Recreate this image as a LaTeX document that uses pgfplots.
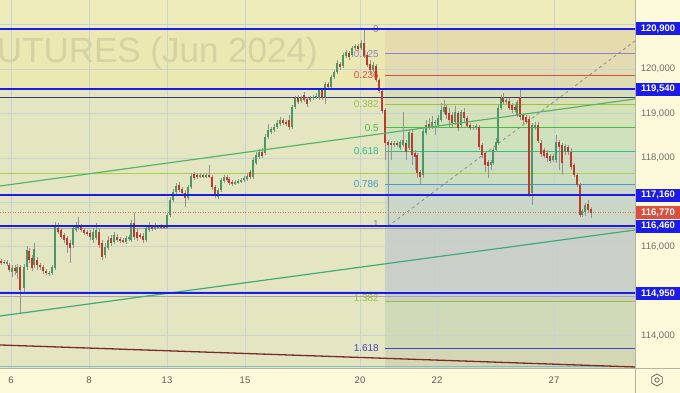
\documentclass[border=0pt]{standalone}
\usepackage{pgfplots}
\pgfplotsset{compat=1.18}
\usepackage{pgfplotstable}
\usepackage{fontspec}
\setmainfont{Liberation Sans}

\definecolor{bgpage}{HTML}{FDFADB}
\definecolor{bgplot}{HTML}{E4E5C1}
\definecolor{bgtop}{HTML}{EEECBA}
\definecolor{bgzone}{HTML}{ECE8B2}
\definecolor{gridc}{HTML}{CAD3D4}
\definecolor{lvlblue}{HTML}{1C1CE8}
\definecolor{navyl}{HTML}{3A3A78}
\definecolor{limel}{HTML}{A8D04F}
\definecolor{greenl}{HTML}{58B368}
\definecolor{green2}{HTML}{44A878}
\definecolor{darkred}{HTML}{7A2A2A}
\definecolor{tealb}{HTML}{7DC0C0}
\definecolor{pricered}{HTML}{D9503F}
\definecolor{tickc}{HTML}{6E6E6E}
\definecolor{wmark}{HTML}{D6D2A3}
\definecolor{fgrey}{HTML}{8A8A8A}
\definecolor{fpurple}{HTML}{8C80D0}
\definecolor{fred}{HTML}{E04A4A}
\definecolor{fyg}{HTML}{9DC23C}
\definecolor{fgreen}{HTML}{3CC23C}
\definecolor{fteal}{HTML}{2FBE8A}
\definecolor{fsteel}{HTML}{4A9AD0}
\definecolor{fviolet}{HTML}{4545C0}
\definecolor{wick}{HTML}{939393}
\definecolor{bull}{HTML}{4A9665}
\definecolor{bulldark}{HTML}{24502F}
\definecolor{bear}{HTML}{BE3A2C}
\definecolor{beardark}{HTML}{5E1A16}
\definecolor{band1}{HTML}{E6DBAD}
\definecolor{band2}{HTML}{E3DBB1}
\definecolor{band3}{HTML}{E0DCB2}
\definecolor{band4}{HTML}{D9DFB5}
\definecolor{band5}{HTML}{D5E1B8}
\definecolor{band6}{HTML}{D0E1BE}
\definecolor{band7}{HTML}{CEDEC3}
\definecolor{band8}{HTML}{CCD8C7}
\definecolor{band9}{HTML}{CAD0C8}
\definecolor{band10}{HTML}{D1DAB8}
\definecolor{band11}{HTML}{D5D7B4}
\definecolor{borderc}{HTML}{B4B4A4}

% candles: x (time position), open, high, low, close
\pgfplotstableread[row sep=\\]{
x o h l c\\
7 115610 115700 115570 115660\\
12 115430 115590 115320 115520\\
17 115410 115610 115270 115540\\
24 115070 115610 114980 115540\\
27 115540 116020 115480 115930\\
34 115590 116080 115520 115950\\
49 115390 115450 115340 115410\\
52 115410 115590 115360 115540\\
55 115520 116560 115480 116490\\
73 116040 116460 115970 116420\\
76 116380 116560 116330 116440\\
78 116420 116670 116380 116490\\
93 116150 116420 116080 116330\\
96 116200 116530 116150 116380\\
105 115810 116080 115750 115990\\
108 115970 116240 115930 116150\\
114 116110 116330 116060 116260\\
126 116110 116240 116060 116200\\
129 116170 116260 116130 116220\\
131 116150 116600 116110 116530\\
146 116150 116460 116110 116420\\
149 116380 116560 116330 116440\\
155 116400 116530 116380 116440\\
158 116420 116490 116400 116440\\
167 116420 116760 116400 116710\\
170 116710 117120 116670 117050\\
173 117050 117300 117000 117230\\
176 117230 117430 117190 117370\\
188 117100 117390 117050 117340\\
191 117340 117660 117300 117590\\
200 117570 117660 117550 117610\\
206 117570 117660 117550 117610\\
218 117120 117320 117070 117280\\
221 117280 117550 117230 117500\\
224 117480 117610 117430 117570\\
235 117410 117500 117390 117460\\
238 117430 117520 117410 117480\\
241 117460 117550 117430 117500\\
244 117500 117590 117460 117550\\
247 117520 117660 117480 117590\\
253 117570 118020 117520 117950\\
256 117880 118130 117840 118060\\
259 118020 118200 117970 118130\\
265 118110 118540 118060 118470\\
268 118470 118760 118420 118630\\
271 118580 118690 118540 118650\\
274 118630 118760 118580 118690\\
277 118690 118850 118650 118780\\
280 118760 118920 118720 118850\\
292 118690 119190 118650 119140\\
295 119140 119390 119100 119350\\
301 119280 119390 119230 119350\\
310 119300 119390 119260 119350\\
313 119350 119410 119300 119370\\
316 119370 119460 119320 119390\\
319 119350 119570 119300 119530\\
325 119370 119710 119210 119660\\
331 119590 119860 119550 119820\\
334 119820 119980 119770 119930\\
337 119930 120200 119890 120130\\
343 120070 120360 120020 120310\\
346 120290 120430 120250 120380\\
352 120310 120520 120270 120470\\
355 120470 120560 120430 120520\\
361 120470 120650 120430 120580\\
373 119980 120160 119930 120090\\
394 118290 118380 118240 118330\\
400 118220 118400 118180 118360\\
403 118290 119030 118240 118400\\
409 118220 118630 118180 118580\\
423 117610 118670 117550 118600\\
426 118560 118850 118510 118740\\
432 118690 118940 118650 118810\\
435 118780 118850 118510 118810\\
438 118740 118960 118670 118900\\
441 118850 119230 118810 119080\\
444 119030 119300 118990 119140\\
455 118810 119170 118740 119030\\
461 118740 119080 118670 119030\\
473 118670 118740 118630 118690\\
476 118670 118760 118630 118720\\
491 117840 117950 117730 117910\\
493 117880 118220 117840 118180\\
496 118180 118450 118130 118360\\
498 118330 119190 118290 119120\\
501 119120 119410 119080 119350\\
506 119260 119350 119210 119300\\
517 118960 119300 118920 119260\\
532 117210 118780 116940 118740\\
535 118670 118810 118630 118740\\
553 117950 118090 117910 118040\\
556 117950 118510 117880 118360\\
565 118130 118310 118060 118270\\
582 116710 116850 116670 116800\\
585 116780 116980 116690 116940\\
}\bulltab

\pgfplotstableread[row sep=\\]{
x o h l c\\
1 115680 115720 115590 115630\\
4 115660 115700 115610 115630\\
9 115590 115630 115430 115480\\
15 115520 115590 115360 115450\\
20 115540 115590 114510 115030\\
29 115900 115970 115630 115700\\
32 115750 115810 115450 115520\\
37 115700 115770 115480 115590\\
40 115590 115630 115480 115540\\
43 115540 115590 115390 115450\\
46 115450 115500 115360 115410\\
58 116420 116530 116290 116330\\
61 116380 116420 116170 116220\\
64 116260 116310 116080 116150\\
67 116200 116240 115860 116040\\
70 116080 116150 115630 115970\\
81 116440 116510 116330 116380\\
84 116380 116420 116260 116310\\
87 116330 116380 116240 116290\\
90 116310 116380 116150 116220\\
99 116330 116400 115970 116040\\
102 116080 116150 115700 115770\\
111 116200 116260 116020 116080\\
117 116220 116290 116110 116150\\
120 116170 116220 116080 116130\\
123 116150 116200 116080 116110\\
134 116530 116760 116150 116220\\
137 116330 116420 116130 116200\\
140 116260 116310 116170 116220\\
143 116240 116310 116080 116150\\
152 116440 116490 116350 116400\\
161 116460 116510 116400 116420\\
164 116440 116490 116400 116420\\
179 117390 117460 117230 117280\\
182 117300 117340 117160 117210\\
185 117210 117280 116890 117100\\
194 117640 117680 117500 117550\\
197 117610 117660 117520 117570\\
203 117610 117640 117550 117570\\
209 117610 117840 117550 117570\\
212 117570 117610 117280 117340\\
215 117340 117390 117100 117160\\
227 117570 117610 117460 117500\\
229 117520 117570 117390 117430\\
232 117460 117500 117370 117410\\
250 117680 117730 117520 117570\\
262 118130 118220 118000 118040\\
283 118850 118900 118740 118780\\
286 118810 118850 118720 118760\\
289 118850 118960 118630 118690\\
298 119350 119410 119210 119260\\
304 119410 119480 119260 119300\\
307 119320 119370 119140 119210\\
322 119530 119570 119300 119350\\
328 119660 119710 119530 119590\\
340 120110 120160 119980 120040\\
349 120360 120400 120200 120270\\
358 120520 120560 120400 120450\\
364 120580 120900 120250 120290\\
367 120310 120380 120040 120090\\
370 120110 120200 119890 119980\\
376 120070 120110 119710 119750\\
379 119750 119800 119460 119500\\
382 119500 119550 119010 119050\\
385 119080 119120 117950 118330\\
388 118360 118400 116460 118290\\
391 118330 118380 117950 118290\\
397 118330 118380 118240 118290\\
406 118330 118400 117950 118130\\
412 118560 118630 117840 118060\\
415 118110 118180 117730 118020\\
417 118060 118110 117550 117660\\
420 117680 117730 117390 117570\\
429 118760 118900 118630 118670\\
446 119140 119190 118870 118960\\
449 119010 119120 118690 118850\\
452 118960 119030 118690 118780\\
458 119010 119050 118600 118670\\
464 119030 119120 118810 118900\\
467 118900 118940 118670 118720\\
470 118740 118780 118630 118670\\
479 118690 118740 118180 118240\\
482 118290 118330 118000 118060\\
485 118110 118150 117680 117840\\
488 117910 117950 117550 117820\\
503 119350 119460 119210 119260\\
509 119280 119350 119080 119120\\
512 119190 119230 119010 119080\\
515 119140 119190 119030 119080\\
520 119350 119570 118850 118920\\
523 118960 119010 118740 118850\\
526 118920 118960 118760 118810\\
529 118870 118940 117120 117160\\
538 118740 118810 118330 118380\\
541 118330 118400 118020 118090\\
544 118180 118220 118000 118040\\
547 118110 118180 117910 118000\\
550 118040 118090 117880 117930\\
559 118360 118400 117730 118240\\
562 118290 118330 117610 117880\\
568 118240 118290 118060 118130\\
571 118130 118220 117730 117790\\
574 117840 117880 117570 117610\\
577 117610 117660 117340 117390\\
580 117390 117430 116670 116710\\
588 116960 117050 116780 116830\\
591 116850 116890 116650 116770\\
}\beartab

\begin{document}
\begin{tikzpicture}
\fill[bgpage] (0pt,-25pt) rectangle (680pt,368pt);
\begin{axis}[
  at={(0pt,0pt)}, anchor=south west,
  scale only axis, width=635pt, height=368pt,
  xmin=0, xmax=635, ymin=113272, ymax=121552,
  clip=false,
  axis line style={draw=none},
  tick style={draw=none},
  major tick length=0pt,
  axis background/.style={fill=bgplot},
  xtick={11,89,167,245,360,437,554},
  xticklabels={6,8,13,15,20,22,27},
  ytick={114000,116000,118000,119000,120000},
  yticklabels={{114,000},{116,000},{118,000},{119,000},{120,000}},
  yticklabel pos=right,
  yticklabel style={anchor=center, xshift=23pt, text=tickc, font=\fontsize{9.5}{11}\selectfont},
  xticklabel style={anchor=center, yshift=-12pt, text=tickc!80!black, font=\fontsize{9.5}{11}\selectfont},
  lvl/.style={lvlblue, line width=2pt, forget plot},
  thin/.style={line width=0.8pt, forget plot},
]
% background zones
\fill[bgtop] (axis cs:0,120900) rectangle (axis cs:635,121552);
\fill[bgzone] (axis cs:0,119540) rectangle (axis cs:635,120900);
% fib bands
\fill[band1] (axis cs:385,120900) rectangle (axis cs:635,120345);
\fill[band2] (axis cs:385,120345) rectangle (axis cs:635,119852);
\fill[band3] (axis cs:385,119852) rectangle (axis cs:635,119540);
\fill[band4] (axis cs:385,119540) rectangle (axis cs:635,119204);
\fill[band5] (axis cs:385,119204) rectangle (axis cs:635,118680);
\fill[band6] (axis cs:385,118680) rectangle (axis cs:635,118156);
\fill[band7] (axis cs:385,118156) rectangle (axis cs:635,117410);
\fill[band8] (axis cs:385,117410) rectangle (axis cs:635,116460);
\fill[band9] (axis cs:385,116460) rectangle (axis cs:635,114764);
\fill[band10] (axis cs:385,114764) rectangle (axis cs:635,113716);
\fill[band11] (axis cs:385,113716) rectangle (axis cs:635,113272);
% watermark
\node[anchor=base east, inner sep=0pt, text=wmark, font=\fontsize{35}{35}\selectfont] at (axis cs:318,120135) {UTURES (Jun 2024)};
% grid
\foreach \gx in {11,89,167,245,360,437,554} {
  \edef\tmp{\noexpand\draw[gridc, line width=0.6pt] (axis cs:\gx,113272) -- (axis cs:\gx,121552);}\tmp
}
\foreach \gy in {114000,115000,116000,117000,118000,119000,120000,121000} {
  \edef\tmp{\noexpand\draw[gridc, line width=0.6pt] (axis cs:0,\gy) -- (axis cs:635,\gy);}\tmp
}
% fib levels
\addplot[fgrey, thin] coordinates {(385,120900) (635,120900)};
\addplot[fpurple, thin] coordinates {(385,120345) (635,120345)};
\addplot[fred, thin] coordinates {(385,119852) (635,119852)};
\addplot[fyg, thin] coordinates {(385,119204) (635,119204)};
\addplot[fgreen, thin] coordinates {(385,118680) (635,118680)};
\addplot[fteal, thin] coordinates {(385,118156) (635,118156)};
\addplot[fsteel, thin] coordinates {(385,117410) (635,117410)};
\addplot[fgrey, thin] coordinates {(385,116460) (635,116460)};
\addplot[fyg, thin] coordinates {(385,114764) (635,114764)};
\addplot[fviolet, thin] coordinates {(385,113716) (635,113716)};
\addplot[fgrey, thin, dash pattern=on 3pt off 3pt] coordinates {(388,116460) (635,120630)};
\begin{scope}[font=\fontsize{10}{12}\selectfont]
\node[anchor=east, inner sep=1pt, text=fgrey] at (axis cs:380,120900) {0};
\node[anchor=east, inner sep=1pt, text=fpurple] at (axis cs:380,120345) {0.125};
\node[anchor=east, inner sep=1pt, text=fred] at (axis cs:380,119852) {0.236};
\node[anchor=east, inner sep=1pt, text=fyg] at (axis cs:380,119204) {0.382};
\node[anchor=east, inner sep=1pt, text=fgreen] at (axis cs:380,118680) {0.5};
\node[anchor=east, inner sep=1pt, text=fteal] at (axis cs:380,118156) {0.618};
\node[anchor=east, inner sep=1pt, text=fsteel] at (axis cs:380,117410) {0.786};
\node[anchor=east, inner sep=1pt, text=fgrey] at (axis cs:380,116500) {1};
\node[anchor=east, inner sep=1pt, text=fyg] at (axis cs:380,114840) {1.382};
\node[anchor=east, inner sep=1pt, text=fviolet] at (axis cs:380,113716) {1.618};
\end{scope}
% other horizontal lines
\addplot[navyl, thin] coordinates {(0,119370) (635,119370)};
\addplot[limel, line width=1pt, forget plot] coordinates {(0,117640) (635,117640)};
\addplot[gray!70, thin] coordinates {(0,116420) (635,116420)};
\addplot[gray!70, thin] coordinates {(0,114880) (635,114880)};
\addplot[tealb, line width=1.5pt, forget plot] coordinates {(0,113305) (635,113305)};
\addplot[pricered!80, line width=0.8pt, dash pattern=on 1pt off 1.5pt, forget plot] coordinates {(0,116770) (635,116770)};
% candles: wicks
\addplot[draw=wick, mark=none, forget plot, quiver={u=0, v=\thisrow{h}-\thisrow{l}, every arrow/.append style={draw=wick, line width=0.9pt}}]
  table[x=x, y=l] {\bulltab};
\addplot[draw=wick, mark=none, forget plot, quiver={u=0, v=\thisrow{h}-\thisrow{l}, every arrow/.append style={draw=wick, line width=0.9pt}}]
  table[x=x, y=l] {\beartab};
% candles: bodies (dark edge, then fill)
\addplot[draw=bulldark, mark=none, forget plot, quiver={u=0, v=\thisrow{c}-\thisrow{o}, every arrow/.append style={draw=bulldark, line width=2.8pt}}]
  table[x=x, y=o] {\bulltab};
\addplot[draw=bull, mark=none, forget plot, quiver={u=0, v=\thisrow{c}-\thisrow{o}, every arrow/.append style={draw=bull, line width=1.5pt}}]
  table[x=x, y=o] {\bulltab};
\addplot[draw=beardark, mark=none, forget plot, quiver={u=0, v=\thisrow{o}-\thisrow{c}, every arrow/.append style={draw=beardark, line width=2.8pt}}]
  table[x=x, y=c] {\beartab};
\addplot[draw=bear, mark=none, forget plot, quiver={u=0, v=\thisrow{o}-\thisrow{c}, every arrow/.append style={draw=bear, line width=1.5pt}}]
  table[x=x, y=c] {\beartab};
% trend lines
\addplot[greenl, line width=1.2pt, forget plot] coordinates {(0,117367) (635,119325)};
\addplot[green2, line width=1.2pt, forget plot] coordinates {(0,114442) (635,116377)};
\addplot[darkred, line width=1.3pt, forget plot] coordinates {(0,113790) (635,113295)};
% blue levels
\addplot[lvl] coordinates {(0,120900) (635,120900)};
\addplot[lvl] coordinates {(0,119540) (635,119540)};
\addplot[lvl] coordinates {(0,117160) (635,117160)};
\addplot[lvl] coordinates {(0,116460) (635,116460)};
\addplot[lvl] coordinates {(0,114950) (635,114950)};
% price boxes
\begin{scope}[every node/.style={text=white, minimum width=44pt, minimum height=13pt, inner sep=0pt, font=\bfseries\fontsize{9.5}{10}\selectfont}]
\node[fill=lvlblue] at (axis cs:658,120900) {120,900};
\node[fill=lvlblue] at (axis cs:658,119540) {119,540};
\node[fill=lvlblue] at (axis cs:658,117160) {117,160};
\node[fill=pricered] at (axis cs:658,116770) {116,770};
\node[fill=lvlblue] at (axis cs:658,116460) {116,460};
\node[fill=lvlblue] at (axis cs:658,114950) {114,950};
\end{scope}
\end{axis}
% frame lines and gear icon
\draw[borderc, line width=0.8pt] (635.5pt,-25pt) -- (635.5pt,368pt);
\draw[borderc, line width=0.8pt] (0pt,-0.4pt) -- (680pt,-0.4pt);
\draw[gray!80!black, line width=0.8pt] (657pt,-12pt) +(90:6pt) -- +(150:6pt) -- +(210:6pt) -- +(270:6pt) -- +(330:6pt) -- +(30:6pt) -- cycle;
\draw[gray!80!black, line width=0.8pt] (657pt,-12pt) circle (2.2pt);
\pgfresetboundingbox
\useasboundingbox (0pt,-25pt) rectangle (680pt,368pt);
\end{tikzpicture}
\end{document}
